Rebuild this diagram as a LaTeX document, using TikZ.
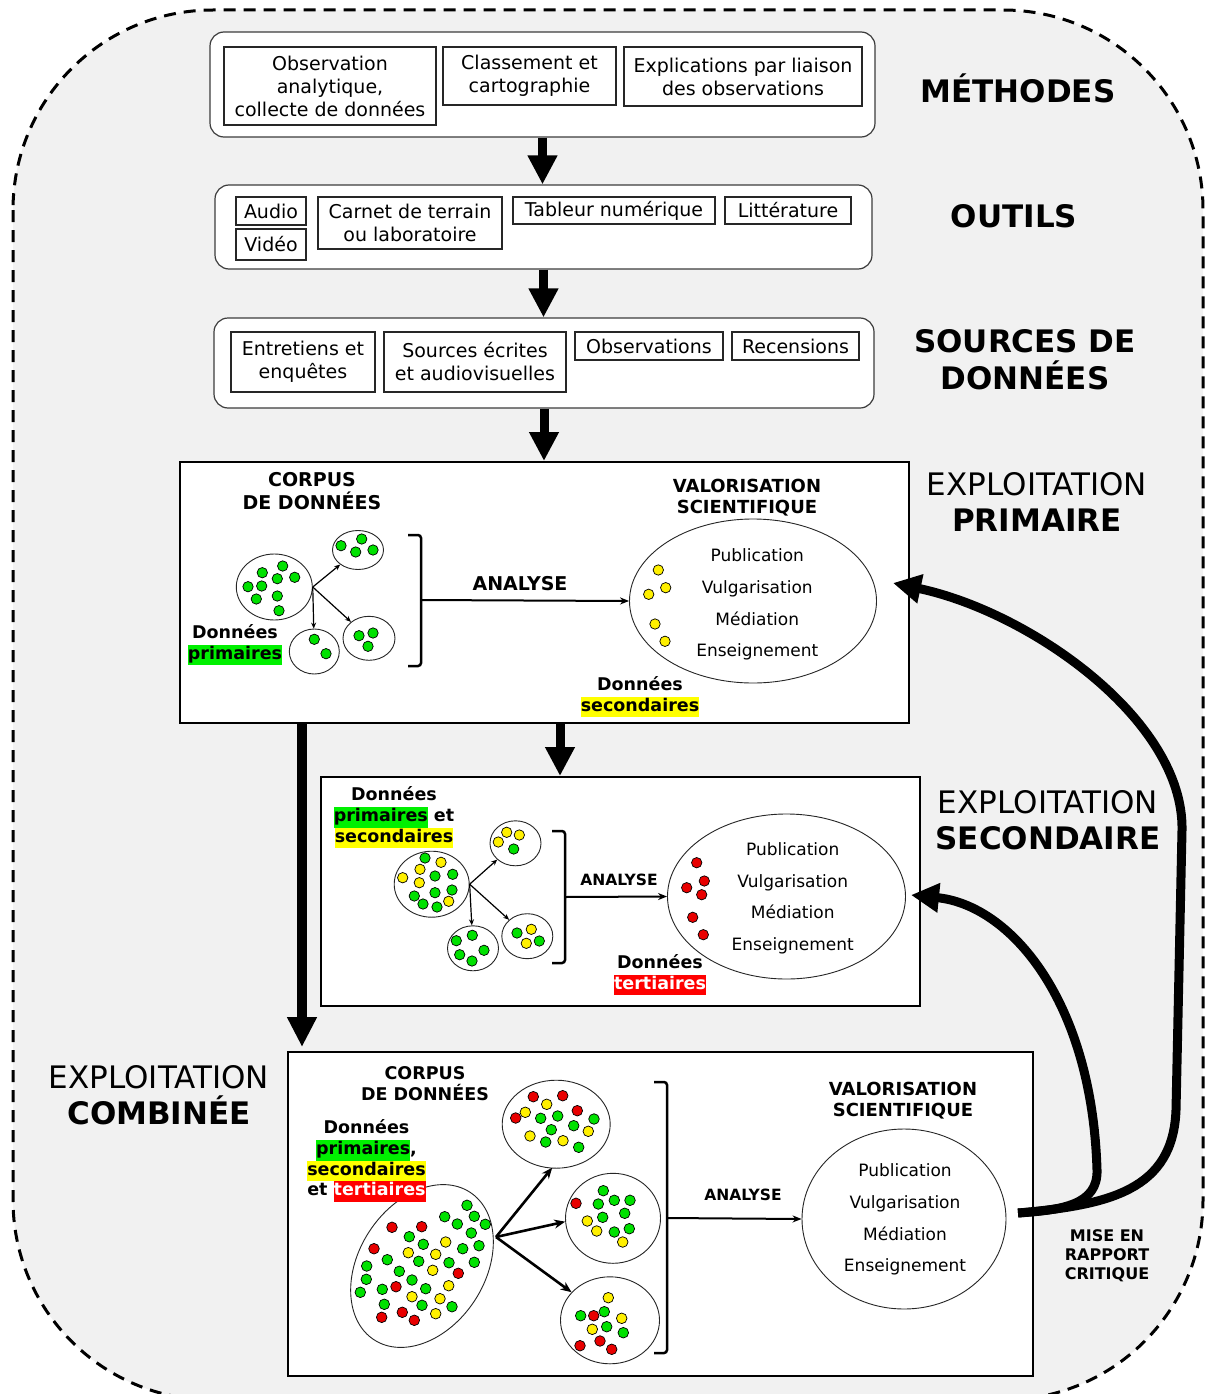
\documentclass[tikz,border=0pt]{standalone}
\usepackage{fontspec}
\setmainfont{DejaVu Sans}
\usetikzlibrary{arrows.meta,shapes.geometric,calc}
\definecolor{bg}{RGB}{241,241,241}
\definecolor{hg}{RGB}{0,240,0}
\definecolor{hy}{RGB}{255,255,0}
\definecolor{hr}{RGB}{255,0,0}
\definecolor{dg}{RGB}{0,225,0}
\definecolor{dy}{RGB}{255,240,0}
\definecolor{dr}{RGB}{232,0,0}
\definecolor{bx}{RGB}{60,60,60}
\newcommand{\fs}[2]{\fontsize{#1}{#2}\selectfont}
\newcommand{\hlt}[2]{{\setlength{\fboxsep}{0pt}\colorbox{#1}{\strut #2}}}
\tikzset{
  obox/.style={draw=bx, line width=1.2pt, rounded corners=14pt, fill=white, inner sep=0pt},
  ibox/.style={draw=black!85, line width=1.1pt, fill=white, inner sep=0pt, align=center, font=\fs{19}{23}},
  panel/.style={draw=black, line width=2pt, fill=white, inner sep=0pt},
  ell/.style={ellipse, draw=black!85, line width=0.9pt, fill=white, inner sep=0pt},
  bigarr/.style={line width=9pt, -{Triangle[length=29pt,width=28pt]}},
  fbk/.style={line width=9pt, -{Triangle[length=28pt,width=28pt]}},
  thinarr/.style={line width=1.2pt, -{Stealth[length=6pt,width=5pt]}},
  midarr/.style={line width=2.6pt, -{Stealth[length=11pt,width=9pt]}},
  anarr/.style={line width=2pt, -{Stealth[length=9pt,width=7pt]}},
  brk/.style={line width=2.5pt, rounded corners=3pt},
  biglab/.style={font=\fs{31}{36}, align=center},
  hd/.style={font=\bfseries\fs{19}{23}, align=center},
  hdm/.style={font=\bfseries\fs{18}{21}, align=center},
  dn/.style={font=\bfseries\fs{17.5}{20.7}, align=center},
  ellt/.style={font=\fs{17}{31.7}, align=center},
  dotg/.style={fill=dg, draw=black, line width=0.7pt},
  doty/.style={fill=dy, draw=black, line width=0.7pt},
  dotr/.style={fill=dr, draw=black, line width=0.7pt},
}
\begin{document}
\begin{tikzpicture}[x=1pt,y=-1pt]
\useasboundingbox (0,0) rectangle (1205,1394);
% background
\fill[white] (0,0) rectangle (1205,1394);
\draw[fill=bg, dashed, dash pattern=on 12pt off 8pt, line width=3pt, rounded corners=200pt] (13,10) rectangle (1203,1400);

% --- top boxes ---
\node[obox, minimum width=665pt, minimum height=105pt] (meth) at (542.5,84.5) {};
\node[ibox, minimum width=212pt, minimum height=78pt] (obs) at (330,86) {Observation\\analytique,\\collecte de données};
\node[ibox, minimum width=173pt, minimum height=58pt] (cls) at (529.5,76) {Classement et\\cartographie};
\node[ibox, minimum width=238pt, minimum height=59pt] (expl) at (743,76.5) {Explications par liaison\\des observations};
\node[font=\bfseries\fs{31}{36}] (lmeth) at (1018,88) {MÉTHODES};

\node[obox, minimum width=657pt, minimum height=84pt] (tools) at (543.5,227) {};
\node[ibox, minimum width=70pt, minimum height=28pt] (audio) at (271,211) {Audio};
\node[ibox, minimum width=70pt, minimum height=31pt] (video) at (271,244.5) {Vidéo};
\node[ibox, minimum width=184pt, minimum height=52pt] (carnet) at (410,223) {Carnet de terrain\\ou laboratoire};
\node[ibox, minimum width=202pt, minimum height=27pt] (tab) at (614,210.5) {Tableur numérique};
\node[ibox, minimum width=126pt, minimum height=27pt] (lit) at (788,210.5) {Littérature};
\node[font=\bfseries\fs{31}{36}] (ltools) at (1014,216) {OUTILS};

\node[obox, minimum width=660pt, minimum height=90pt] (srcs) at (544,363) {};
\node[ibox, minimum width=144pt, minimum height=60pt] (ent) at (303,362) {Entretiens et\\enquêtes};
\node[ibox, minimum width=182pt, minimum height=60pt] (sec) at (475,362) {Sources écrites\\et audiovisuelles};
\node[ibox, minimum width=148pt, minimum height=28pt] (obsv) at (649,346) {Observations};
\node[ibox, minimum width=127pt, minimum height=28pt] (rec) at (795.5,346) {Recensions};
\node[font=\bfseries\fs{31}{37}, align=center] (lsrcs) at (1025,360) {SOURCES DE\\DONNÉES};

% --- panels ---
\node[panel, minimum width=729pt, minimum height=261pt] (p1) at (544.5,592.5) {};
\node[panel, minimum width=599pt, minimum height=229pt] (p2) at (620.5,891.5) {};
\node[panel, minimum width=745pt, minimum height=324pt] (p3) at (660.5,1214) {};

% vertical arrows
\draw[bigarr] (meth.south) -- (meth.south |- tools.north);
\draw[bigarr] (tools.south) -- (tools.south |- srcs.north);
\draw[bigarr] (srcs.south) -- (srcs.south |- p1.north);
\coordinate (p1a) at ($(p1.south west)+(381,0)$);
\draw[bigarr] (p1a) -- (p1a |- p2.north);
\coordinate (p1b) at ($(p1.south west)+(123,0)$);
\draw[line width=10pt, -{Triangle[length=30pt,width=28pt]}] (p1b) -- ($(p1b |- p3.north)+(0,-4)$);

% labels on the right / left
\node[biglab] (l1) at (1037,502) {EXPLOITATION\\\textbf{PRIMAIRE}};
\node[biglab] (l2) at (1048,820) {EXPLOITATION\\\textbf{SECONDAIRE}};
\node[biglab] (l3) at (159,1095) {EXPLOITATION\\\textbf{COMBINÉE}};

% ===== panel 1 =====
\node[hd] (cor1) at (312,491.5) {CORPUS\\DE DONNÉES};
\node[hdm] (val1) at (747,497.5) {VALORISATION\\SCIENTIFIQUE};
\node[ell, minimum width=76pt, minimum height=66pt] (c1) at (274.3,587) {};
\node[ell, minimum width=51pt, minimum height=39pt] (c1a) at (358,550) {};
\node[ell, minimum width=50pt, minimum height=45pt] (c1b) at (314.3,651.5) {};
\node[ell, minimum width=52pt, minimum height=44pt] (c1c) at (369,638.3) {};
\draw[thinarr] (c1.east) -- (c1a);
\draw[thinarr] (c1.east) -- (c1b);
\draw[thinarr] (c1.east) -- (c1c);
\foreach \x/\y in {262.3/572.7,282.7/566,277.3/578.7,294.7/577.3,248/586.7,261.7/586,256.3/599,277.3/596,279/610.7,
  341/545.7,361.7/539,355.7/552,373/550, 314.3/639.3,326/653.7, 359/635.7,373/633,368/646.3}
  \path[dotg] (\x,\y) circle[radius=5.2pt];
\node[dn] (d1) at (235,645) {Données\\\hlt{hg}{primaires}};
\draw[brk] (408,535) -- (421,535) -- (421,666) -- (408,666);
\coordinate (b1) at (421,600);
\node[ell, minimum width=247pt, minimum height=164pt] (v1) at (753,601) {};
\draw[anarr] (b1) -- (v1.west);
\node[font=\bfseries\fs{19}{23}] (an1) at (520,584) {ANALYSE};
\node[ellt] (t1txt) at (757.3,604.7) {Publication\\Vulgarisation\\Médiation\\Enseignement};
\foreach \x/\y in {658.3/570,665.7/587.7,648.7/594.3,655/624,665/641.3}
  \path[doty] (\x,\y) circle[radius=5.2pt];
\node[dn] (d1b) at (640,697) {Données\\\hlt{hy}{secondaires}};

% ===== panel 2 =====
\node[dn] (d2) at (394,817.5) {Données\\\hlt{hg}{primaires} et\\\hlt{hy}{secondaires}};
\node[ell, minimum width=75pt, minimum height=66pt] (c2) at (431.7,884.2) {};
\node[ell, minimum width=51pt, minimum height=45pt] (c2a) at (515.5,843.3) {};
\node[ell, minimum width=51pt, minimum height=45pt] (c2b) at (473,948.3) {};
\node[ell, minimum width=51pt, minimum height=45pt] (c2c) at (527.3,936.2) {};
\draw[thinarr] (c2.east) -- (c2a);
\draw[thinarr] (c2.east) -- (c2b);
\draw[thinarr] (c2.east) -- (c2c);
\foreach \x/\y in {425/858,452.7/874.3,435/876,452/890,435/892.7,414.3/896,423/904,437/907,
  513.7/849, 472.3/935.3,456.3/940.7,484/950.3,459.7/954.7,472/961, 517/933,539.3/941}
  \path[dotg] (\x,\y) circle[radius=5.2pt];
\foreach \x/\y in {441/862.3,420/869.3,402.7/877.7,419.3/882.7,448.7/901.3,
  506.7/832.3,519.3/835,498.3/842, 531.3/929.3,526.3/943.3}
  \path[doty] (\x,\y) circle[radius=5.2pt];
\draw[brk] (552,831) -- (565,831) -- (565,963) -- (552,963);
\coordinate (b2) at (565,897);
\node[ell, minimum width=238pt, minimum height=165pt] (v2) at (786.5,896.5) {};
\draw[anarr] (b2) -- (v2.west);
\node[font=\bfseries\fs{15.5}{19}] (an2) at (619,880) {ANALYSE};
\node[ellt] (t2txt) at (792.7,898.3) {Publication\\Vulgarisation\\Médiation\\Enseignement};
\foreach \x/\y in {696.7/862.7,704.3/881,686.7/887.7,701.7/894.7,692.7/917.3,703.3/934.7}
  \path[dotr] (\x,\y) circle[radius=5.2pt];
\node[dn] (d2b) at (660,975) {Données\\\hlt{hr}{\color{white}tertiaires}};

% ===== panel 3 =====
\node[font=\bfseries\fs{17.5}{21}, align=center] (cor3) at (425,1083.5) {CORPUS\\DE DONNÉES};
\node[hdm] (val3) at (903,1100.5) {VALORISATION\\SCIENTIFIQUE};
\node[ell, rotate=57, minimum width=176pt, minimum height=126pt] (c3) at (422,1266) {};
\node[dn] (d3) at (366.5,1161) {Données\\\hlt{hg}{primaires},\\\hlt{hy}{secondaires}\\et \hlt{hr}{\color{white}tertiaires}};
\node[ell, minimum width=108pt, minimum height=88pt] (c3a) at (556.2,1124.2) {};
\node[ell, minimum width=95pt, minimum height=90pt] (c3b) at (613,1218.3) {};
\node[ell, minimum width=99pt, minimum height=87pt] (c3c) at (610,1320.3) {};
\coordinate (c3o) at (496,1237);
\draw[midarr] (c3o) -- ($(c3a.south)+(-4,-1)$);
\draw[midarr] (c3o) -- (c3b.184);
\draw[midarr] (c3o) -- (c3c);
\foreach \x/\y in {467/1205.3,444.7/1216.7,474.3/1216.3,457.3/1224,485.3/1224.3,409.3/1236.7,471.3/1233,423.3/1244.3,479/1245.7,462.7/1248.7,387.3/1259.7,418.7/1261.3,449/1262.7,474.3/1262.3,366.7/1266,399.3/1271.3,366.3/1279.3,412/1280,360.3/1292.3,382.3/1289.3,425.7/1288.7,384.3/1304.3,422/1305.3,452/1306.7,
  540.7/1118.3,557.7/1116,594/1119,551.3/1129.7,573.7/1125.7,545.7/1142,578.7/1147.3,
  603.3/1190.7,614.3/1200.3,630/1200.3,598.3/1204,624.7/1213.3,602.7/1217.3,629.3/1228.7,614.3/1232,
  604.3/1311.7,580.7/1315.7,606.7/1326.7,623.3/1332.7}
  \path[dotg] (\x,\y) circle[radius=5.3pt];
\foreach \x/\y in {392/1227.3,421.7/1226.7,374/1248.7,458.3/1273.3,396/1286.7,402.3/1312.3,381.7/1317.3,414.3/1320.3,
  533.3/1096.7,562.7/1095.7,515.7/1118,577.3/1110.7,
  576/1203.3,
  593.7/1315.7,600/1341,580/1345.7,611.7/1349.3}
  \path[dotr] (\x,\y) circle[radius=5.3pt];
\foreach \x/\y in {445.7/1242,408.3/1252.7,435.7/1254.3,432.7/1270.3,448.7/1285.7,412/1296.7,440/1298.7,435.7/1313.7,
  546.7/1104.3,525.3/1112.3,588.3/1131.3,530/1136,563/1140.7,
  587.3/1221,596.7/1231,622.7/1242,
  608.3/1297.7,621.7/1318.3,592.3/1329.3}
  \path[doty] (\x,\y) circle[radius=5.3pt];
\draw[brk] (654,1082) -- (667,1082) -- (667,1353) -- (654,1353);
\coordinate (b3) at (667,1218);
\node[ell, minimum width=204pt, minimum height=180pt] (v3) at (904,1219) {};
\draw[anarr] (b3) -- (v3.west);
\node[font=\bfseries\fs{15.5}{19}] (an3) at (743,1195) {ANALYSE};
\node[ellt] (t3txt) at (905,1219.5) {Publication\\Vulgarisation\\Médiation\\Enseignement};

% ===== feedback =====
\node[font=\bfseries\fs{16}{19}, align=center] (mise) at (1107,1256) {MISE EN\\RAPPORT\\CRITIQUE};
\coordinate (fb) at (1018,1213);
\coordinate (tp1) at (893,583);
\coordinate (tp2) at (911,895);
\draw[fbk] (fb) .. controls (1110,1205) and (1173,1190) .. (1176,1110) -- (1182,830) .. controls (1184,720) and (1030,612) .. (tp1);
\draw[fbk] (fb) .. controls (1062,1210) and (1098,1205) .. (1097,1170) .. controls (1092,1000) and (1010,905) .. (tp2);
\end{tikzpicture}
\end{document}
